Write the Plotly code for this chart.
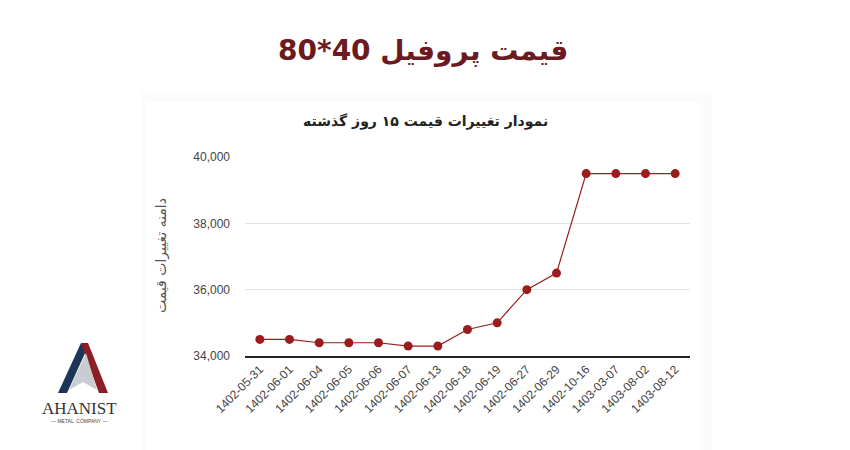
import plotly.graph_objects as go

dates = ["1402-05-31", "1402-06-01", "1402-06-04", "1402-06-05", "1402-06-06",
         "1402-06-07", "1402-06-13", "1402-06-18", "1402-06-19", "1402-06-27",
         "1402-06-29", "1402-10-16", "1403-03-07", "1403-08-02", "1403-08-12"]
prices = [34500, 34500, 34400, 34400, 34400, 34300, 34300, 34800, 35000, 36000,
          36500, 39500, 39500, 39500, 39500]
y_ticks = [34000, 36000, 38000, 40000]

main_title = "قیمت پروفیل 40*80"
chart_title = "نمودار تغییرات قیمت ۱۵ روز گذشته"
y_title = "دامنه تغییرات قیمت"

W, H = 850, 450
L, R, T, B = 245, 690, 157, 356


def px(x):
    return (x - L) / (R - L)


def py(y):
    return (B - y) / (B - T)


def path(points):
    s = "M " + " L ".join(f"{px(a):.5f},{py(b):.5f}" for a, b in points) + " Z"
    return s


fig = go.Figure()
fig.add_trace(go.Scatter(
    x=dates, y=prices, mode="lines+markers",
    line=dict(color="#9a1c1c", width=1.2),
    marker=dict(color="#9a1c1c", size=9),
    hoverinfo="x+y", showlegend=False,
))

shapes = [
    # chart container
    dict(type="rect", xref="paper", yref="paper", x0=px(142), x1=px(712), y0=py(451), y1=py(92),
         fillcolor="#fafbfb", line=dict(width=0), layer="below"),
    dict(type="rect", xref="paper", yref="paper", x0=px(147), x1=px(700), y0=py(451), y1=py(102),
         fillcolor="#ffffff", line=dict(width=0), layer="below"),
    # logo
    dict(type="path", xref="paper", yref="paper",
         path=path([(58, 393), (81, 343), (86, 351), (67, 393)]),
         fillcolor="#1d3557", line=dict(width=0)),
    dict(type="path", xref="paper", yref="paper",
         path=path([(81, 343), (88, 343), (108, 393), (99, 393)]),
         fillcolor="#8b1e24", line=dict(width=0)),
    dict(type="path", xref="paper", yref="paper",
         path=path([(69, 390), (86, 353), (97, 390), (83, 382)]),
         fillcolor="#c9ccd1", line=dict(width=0)),
]

annotations = [
    dict(text=main_title, xref="paper", yref="paper", x=px(423), y=py(51),
         showarrow=False, xanchor="center", yanchor="middle",
         font=dict(family="DejaVu Sans", size=28, color="#6a1a20", weight="bold")),
    dict(text=chart_title, xref="paper", yref="paper", x=px(425), y=py(121),
         showarrow=False, xanchor="center", yanchor="middle",
         font=dict(family="DejaVu Sans", size=14, color="#222222", weight="bold")),
    dict(text=y_title, xref="paper", yref="paper", x=px(161), y=py(256),
         showarrow=False, xanchor="center", yanchor="middle", textangle=-90,
         font=dict(family="DejaVu Sans", size=14, color="#555555")),
    dict(text="AHANIST", xref="paper", yref="paper", x=px(79), y=py(408),
         showarrow=False, xanchor="center", yanchor="middle",
         font=dict(family="Liberation Serif", size=17, color="#333333")),
    dict(text="— METAL  COMPANY —", xref="paper", yref="paper", x=px(79), y=py(421),
         showarrow=False, xanchor="center", yanchor="middle",
         font=dict(family="Liberation Sans", size=5, color="#444444")),
]

fig.update_layout(
    width=W, height=H,
    margin=dict(l=L, r=W - R, t=T, b=H - B),
    paper_bgcolor="#ffffff", plot_bgcolor="rgba(0,0,0,0)",
    shapes=shapes, annotations=annotations,
    font=dict(family="Liberation Sans", size=12, color="#444444"),
    xaxis=dict(type="category", tickangle=-45, showgrid=False, showline=True,
               range=[-0.5, len(dates) - 0.5],
               linecolor="#222222", linewidth=1.5, ticks="", zeroline=False,
               tickfont=dict(size=12, color="#444444"), fixedrange=True),
    yaxis=dict(range=[34000, 40000], tickvals=y_ticks, tickformat=",",
               showgrid=True, gridcolor="#e2e2e2", zeroline=False, showline=False,
               ticks="", ticklen=0, tickfont=dict(size=12, color="#444444"),
               fixedrange=True),
)
fig.update_yaxes(ticklabelstandoff=14)

fig.write_html("out.html")
